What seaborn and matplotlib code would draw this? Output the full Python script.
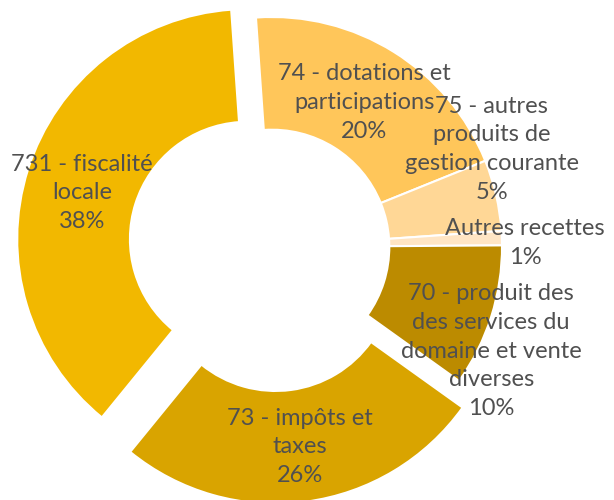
import numpy as np
import matplotlib.pyplot as plt
import seaborn as sns

sns.set_style("white")
plt.rcParams["font.family"] = ["Lato", "DejaVu Sans"]

# Data
labels = [
    "74 - dotations et\nparticipations",
    "75 - autres\nproduits de\ngestion courante",
    "Autres recettes",
    "70 - produit des\ndes services du\ndomaine et vente\ndiverses",
    "73 - impôts et\ntaxes",
    "731 - fiscalité\nlocale",
]
shares = [20, 5, 1, 10, 26, 38]
colors = ["#FFC65A", "#FFD796", "#FFE5C4", "#BC8B00", "#D9A400", "#F2B800"]
explode = [0, 0, 0, 0, 0.117, 0.113]

# label placement (radius from centre, angle nudge in degrees)
label_r = [0.745, 1.045, 1.10, 1.055, 0.76, 0.745]
label_da = [-0.6, 11.0, -1.3, -7.8, 0.4, 1.9]

fig = plt.figure(figsize=(6.14, 5.0), dpi=100)
ax = fig.add_axes([0, 0, 1, 1])

wedges, _ = ax.pie(
    shares,
    colors=colors,
    explode=explode,
    startangle=94,
    counterclock=False,
    radius=1.0,
    wedgeprops=dict(width=0.49, edgecolor="white", linewidth=1.5),
)

for w, lab, val, ex, r, da in zip(wedges, labels, shares, explode, label_r, label_da):
    mid = np.deg2rad((w.theta1 + w.theta2) / 2)
    ang = mid + np.deg2rad(da)
    x = ex * np.cos(mid) + r * np.cos(ang)
    y = ex * np.sin(mid) + r * np.sin(ang)
    ax.text(x, y, f"{lab}\n{val}%", ha="center", va="center",
            fontsize=17, color="#505050", linespacing=1.45)

# 1 data unit = 230 px, centre at (272, 247) px
ax.set_xlim(-272 / 230, (614 - 272) / 230)
ax.set_ylim(-(500 - 247) / 230, 247 / 230)
ax.set_aspect("auto")
ax.axis("off")

fig.savefig("out.png", dpi=100)
plt.close(fig)
